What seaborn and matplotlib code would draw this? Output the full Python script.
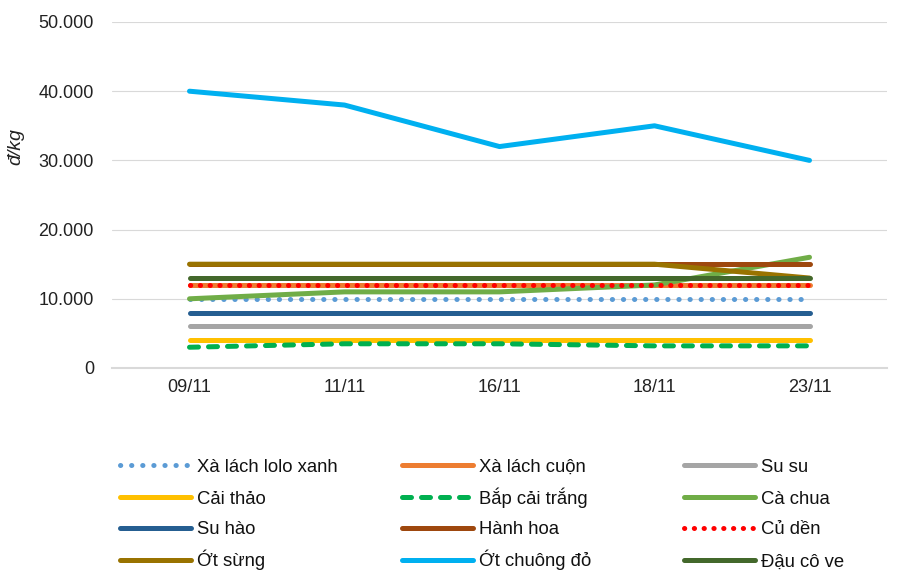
import matplotlib
matplotlib.use("Agg")
import matplotlib.pyplot as plt
from matplotlib.ticker import FuncFormatter, MultipleLocator
from matplotlib.lines import Line2D
import seaborn as sns
import pandas as pd

sns.set_theme(style="white")
plt.rcParams['font.family'] = ['Liberation Sans', 'DejaVu Sans']

# Price data (đ/kg) by survey date
dates = ['09/11', '11/11', '16/11', '18/11', '23/11']
series_names = ['Xà lách lolo xanh', 'Xà lách cuộn', 'Su su',
                'Cải thảo', 'Bắp cải trắng', 'Cà chua',
                'Su hào', 'Hành hoa', 'Củ dền',
                'Ớt sừng', 'Ớt chuông đỏ', 'Đậu cô ve']
xa_lach_lolo = [10000, 10000, 10000, 10000, 10000]
xa_lach_cuon = [12000, 12000, 12000, 12000, 12000]
su_su = [6000, 6000, 6000, 6000, 6000]
cai_thao = [4000, 4000, 4000, 4000, 4000]
bap_cai_trang = [3000, 3500, 3500, 3200, 3200]
ca_chua = [10000, 11000, 11000, 12000, 16000]
su_hao = [8000, 8000, 8000, 8000, 8000]
hanh_hoa = [15000, 15000, 15000, 15000, 15000]
cu_den = [12000, 12000, 12000, 12000, 12000]
ot_sung = [15000, 15000, 15000, 15000, 13000]
ot_chuong_do = [40000, 38000, 32000, 35000, 30000]
dau_co_ve = [13000, 13000, 13000, 13000, 13000]
all_values = [xa_lach_lolo, xa_lach_cuon, su_su, cai_thao, bap_cai_trang, ca_chua,
              su_hao, hanh_hoa, cu_den, ot_sung, ot_chuong_do, dau_co_ve]

colors = ['#5B9BD5', '#ED7D31', '#A5A5A5', '#FFC000', '#00B050', '#70AD47',
          '#255E91', '#9E480E', '#FF0000', '#997300', '#00B0F0', '#43682B']
# None = solid, otherwise dash pattern
dash_styles = [(0.05, 2.17), None, None, None, (1.8, 2.0), None,
               None, None, (0.05, 1.91), None, None, None]

fig = plt.figure(figsize=(8.99, 5.71), dpi=100)
ax = fig.add_axes([112 / 899, 1 - 368 / 571, 775 / 899, 346 / 571])

lw = 3.6
handles = []
for name, vals, col, dsh in zip(series_names, all_values, colors, dash_styles):
    df = pd.DataFrame({'Date': dates, 'Price': vals})
    kw = dict(color=col, lw=lw, solid_capstyle='round', dash_capstyle='round')
    if dsh is not None:
        kw['dashes'] = dsh
    sns.lineplot(data=df, x='Date', y='Price', ax=ax, legend=False, **kw)
    handles.append(Line2D([0], [0], **kw))

ax.set_xlim(-0.5, 4.5)
ax.set_ylim(0, 50000)
ax.yaxis.set_major_locator(MultipleLocator(10000))
ax.yaxis.set_major_formatter(FuncFormatter(lambda v, p: f"{int(v):,}".replace(',', '.')))
ax.grid(axis='y', color='#D9D9D9', lw=0.8)
ax.set_axisbelow(True)
for s in ['top', 'right', 'left']:
    ax.spines[s].set_visible(False)
ax.spines['bottom'].set_color('#D9D9D9')
ax.spines['bottom'].set_linewidth(1.5)
ax.tick_params(axis='y', length=0, pad=13, labelsize=13, labelcolor='#222222')
ax.tick_params(axis='x', length=0, pad=8, labelsize=13, labelcolor='#222222')
ax.set_xlabel('')
ax.set_ylabel('đ/kg', fontsize=14, style='italic', color='#222222')
ax.yaxis.set_label_coords(-0.1135, 0.64)

# Legend: 4 rows x 3 columns, filled row by row; anchored at the bottom so
# every row shares the same baseline regardless of diacritics
col_x = [119.5, 401.5, 683.5]
row_y = [465, 497, 528, 560]
for i, (h, name) in enumerate(zip(handles, series_names)):
    r, c = divmod(i, 3)
    fig.legend([h], [name], loc='lower left',
               bbox_to_anchor=(col_x[c] / 899, 1 - (row_y[r] + 10.5) / 571),
               frameon=False, fontsize=13.3, handlelength=3.85, handletextpad=0.33,
               borderaxespad=0, borderpad=0, labelcolor='#111111')

fig.savefig('out.png', dpi=100)
